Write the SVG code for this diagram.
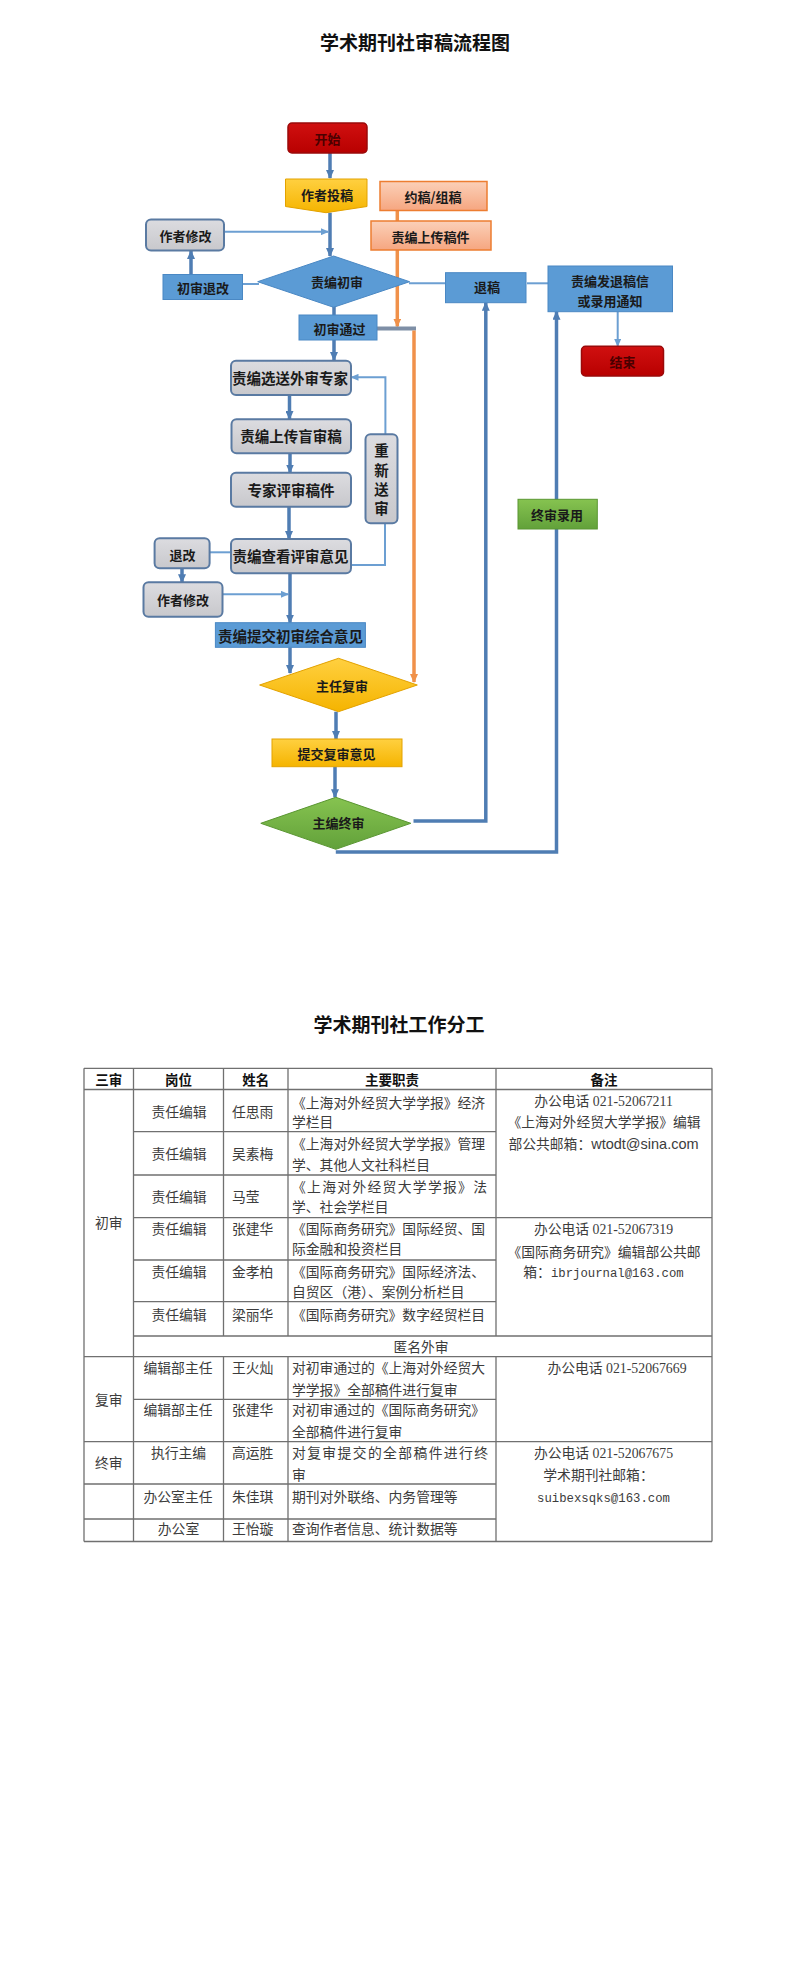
<svg xmlns="http://www.w3.org/2000/svg" width="799" height="1980" viewBox="0 0 799 1980">
<defs>
<linearGradient id="gRed" x1="0" y1="0" x2="0" y2="1"><stop offset="0" stop-color="#d01010"/><stop offset="1" stop-color="#b80000"/></linearGradient>
<linearGradient id="gYel" x1="0" y1="0" x2="0" y2="1"><stop offset="0" stop-color="#ffd040"/><stop offset="1" stop-color="#f5b400"/></linearGradient>
<linearGradient id="gSal" x1="0" y1="0" x2="0" y2="1"><stop offset="0" stop-color="#fbd0b8"/><stop offset="1" stop-color="#f6a680"/></linearGradient>
<linearGradient id="gGray" x1="0" y1="0" x2="0" y2="1"><stop offset="0" stop-color="#dcdce0"/><stop offset="1" stop-color="#c8c8cc"/></linearGradient>
<linearGradient id="gGrn" x1="0" y1="0" x2="0" y2="1"><stop offset="0" stop-color="#86c350"/><stop offset="1" stop-color="#62a13a"/></linearGradient>
<marker id="ah" markerUnits="userSpaceOnUse" markerWidth="9" markerHeight="8" refX="8" refY="4" orient="auto"><path d="M0,0 L9,4 L0,8 z" fill="#4f7db3"/></marker>
<marker id="ahThin" markerUnits="userSpaceOnUse" markerWidth="8" markerHeight="7" refX="7" refY="3.5" orient="auto"><path d="M0,0 L8,3.5 L0,7 z" fill="#6c9fd2"/></marker>
<marker id="ahOr" markerUnits="userSpaceOnUse" markerWidth="9" markerHeight="8" refX="8" refY="4" orient="auto"><path d="M0,0 L9,4 L0,8 z" fill="#f0914a"/></marker>
</defs>
<style>
.t{font-family:"Noto Sans CJK SC","Noto Sans",sans-serif;font-weight:700;fill:#1a1a1a;text-anchor:middle;dominant-baseline:central;font-size:13px}
.tg{font-size:14.5px}
.tr{fill:#4a0000}
.blue{fill:#5b9bd5;stroke:#4a88c4;stroke-width:1}
.gray{fill:url(#gGray);stroke:#5a7aa2;stroke-width:2}
.red{fill:url(#gRed);stroke:#9a0a0a;stroke-width:1.5}
.yel{fill:url(#gYel);stroke:#e3a200;stroke-width:1}
.sal{fill:url(#gSal);stroke:#ed7d31;stroke-width:1.5}
.grn{fill:url(#gGrn);stroke:#5a9632;stroke-width:1}
.thick{fill:none;stroke:#4f7db3;stroke-width:3.5}
.thin{fill:none;stroke:#6c9fd2;stroke-width:2}
.or{fill:none;stroke:#f0914a;stroke-width:3.5}
.title{font-family:"Noto Sans CJK SC","Noto Sans",sans-serif;font-weight:700;fill:#111;text-anchor:middle;font-size:19px}
.grid{fill:none;stroke:#707070;stroke-width:1.3}
.c{font-family:"Liberation Serif","Noto Sans CJK SC",serif;font-size:13.8px;fill:#3c3c3c}
.m{text-anchor:middle}
.mono{font-family:"Liberation Mono","Noto Sans CJK SC",monospace;font-size:12.3px}
.h{font-family:"Noto Sans CJK SC",sans-serif;font-weight:700;font-size:13.5px;fill:#111;text-anchor:middle}
</style>
<rect x="0" y="0" width="799" height="1980" fill="#ffffff"/>
<text class="title" x="415" y="50">学术期刊社审稿流程图</text>

<g id="connectors">
<path class="thick" d="M330,153 V178" marker-end="url(#ah)"/>
<path class="thick" d="M330,212.7 V256" marker-end="url(#ah)"/>
<path class="thin" d="M224,231.7 H328" marker-end="url(#ahThin)"/>
<path class="thick" d="M191,274.5 V251" marker-end="url(#ah)"/>
<path class="thin" d="M242,284 H259"/>
<path class="thin" d="M409,283.3 H445.5"/>
<path class="thin" d="M527,283.3 H548"/>
<path class="or" d="M397.3,210.7 V221"/>
<path class="or" d="M397.3,250 V326.5" marker-end="url(#ahOr)"/>
<path class="thick" d="M334,306 V315"/>
<path d="M377,328.5 H416" fill="none" stroke="#7e8fa6" stroke-width="4"/>
<path class="or" d="M414,330.5 V682" marker-end="url(#ahOr)"/>
<path class="thick" d="M334,340 V360" marker-end="url(#ah)"/>
<path class="thick" d="M289.5,395 V419" marker-end="url(#ah)"/>
<path class="thick" d="M290,453.3 V472.5" marker-end="url(#ah)"/>
<path class="thick" d="M289,506.7 V539" marker-end="url(#ah)"/>
<path class="thin" d="M351,565 H385 V523.3"/>
<path class="thin" d="M385.4,434.3 V377.3 H351.5" marker-end="url(#ahThin)"/>
<path class="thin" d="M209.6,552.3 H231"/>
<path class="thick" d="M182,568.3 V582.3" marker-end="url(#ah)"/>
<path class="thin" d="M222.3,594.3 H288" marker-end="url(#ahThin)"/>
<path class="thick" d="M290,573.3 V622.7" marker-end="url(#ah)"/>
<path class="thick" d="M290,647.3 V673" marker-end="url(#ah)"/>
<path class="thick" d="M336,711.7 V739" marker-end="url(#ah)"/>
<path class="thick" d="M335,766.7 V797.3" marker-end="url(#ah)"/>
<path class="thick" d="M413.5,821 H485.8 V302.7" marker-end="url(#ah)"/>
<path class="thick" d="M335.8,852 H556.5 V311.7" marker-end="url(#ah)"/>
<path class="thin" d="M617.7,311.7 V346" marker-end="url(#ahThin)"/>
</g>

<g id="n-start"><rect class="red" x="288" y="123" width="79" height="30" rx="4"/><text class="t tr" x="327.5" y="138.5">开始</text></g>
<g id="n-submit"><path class="yel" d="M285.5,179 H367 V206.5 L326,212.7 L285.5,206.5 Z"/><text class="t" x="327" y="194.3">作者投稿</text></g>
<g id="n-invite"><rect class="sal" x="380" y="181.5" width="107" height="29"/><text class="t" x="433" y="196.5">约稿/组稿</text></g>
<g id="n-upload"><rect class="sal" x="371" y="221" width="120" height="29"/><text class="t" x="430.5" y="236.5">责编上传稿件</text></g>
<g id="n-revise1"><rect class="gray" x="146" y="219.5" width="78" height="31" rx="5"/><text class="t" x="185.4" y="235.5">作者修改</text></g>
<g id="n-firstreview"><path class="blue" d="M333.6,256 L409.6,281.7 L333.6,307.3 L257.7,281.7 Z"/><text class="t" x="337" y="281.7">责编初审</text></g>
<g id="n-return1"><rect class="blue" x="163" y="274.5" width="79.5" height="25"/><text class="t" x="203" y="287.3">初审退改</text></g>
<g id="n-reject"><rect class="blue" x="445.5" y="272.7" width="80.5" height="30"/><text class="t" x="487" y="286.7">退稿</text></g>
<g id="n-notify"><rect class="blue" x="548" y="266" width="124.5" height="45.7"/><text class="t" x="610" y="280.3">责编发退稿信</text><text class="t" x="610" y="300">或录用通知</text></g>
<g id="n-end"><rect class="red" x="581.5" y="346.3" width="82" height="29.7" rx="4"/><text class="t tr" x="622.5" y="361.5">结束</text></g>
<g id="n-pass"><rect class="blue" x="299" y="315" width="78" height="25"/><text class="t" x="339.5" y="328.5">初审通过</text></g>
<g id="n-select"><rect class="gray" x="231" y="360.7" width="120" height="34.3" rx="5"/><text class="t tg" x="290" y="377.5">责编选送外审专家</text></g>
<g id="n-blind"><rect class="gray" x="231.5" y="419.3" width="119.5" height="34" rx="5"/><text class="t tg" x="291" y="435.5">责编上传盲审稿</text></g>
<g id="n-expert"><rect class="gray" x="231" y="472.7" width="120" height="34" rx="5"/><text class="t tg" x="291" y="489">专家评审稿件</text></g>
<g id="n-resend"><rect class="gray" x="365.5" y="434.3" width="32" height="89" rx="5"/><text class="t tg" x="381.5" y="449.5">重</text><text class="t tg" x="381.5" y="469">新</text><text class="t tg" x="381.5" y="488.5">送</text><text class="t tg" x="381.5" y="507.5">审</text></g>
<g id="n-view"><rect class="gray" x="231" y="539" width="120" height="34.3" rx="5"/><text class="t tg" x="290.5" y="555.5">责编查看评审意见</text></g>
<g id="n-return2"><rect class="gray" x="154.6" y="538.3" width="55" height="30" rx="5"/><text class="t" x="182.5" y="554">退改</text></g>
<g id="n-revise2"><rect class="gray" x="143.5" y="582.3" width="79" height="34.4" rx="5"/><text class="t" x="183" y="599">作者修改</text></g>
<g id="n-summary"><rect class="blue" x="215.4" y="622.7" width="150" height="24.6"/><text class="t tg" x="290.5" y="635.5">责编提交初审综合意见</text></g>
<g id="n-director"><path class="yel" d="M338.5,658.3 L417.3,685 L338.5,711.7 L259.6,685 Z"/><text class="t" x="342" y="685">主任复审</text></g>
<g id="n-opinion"><rect class="yel" x="272" y="739" width="130" height="27.7"/><text class="t" x="336.5" y="753.5">提交复审意见</text></g>
<g id="n-final"><path class="grn" d="M335.8,797.3 L410.8,823.3 L335.8,849.3 L260.8,823.3 Z"/><text class="t" x="338.5" y="822.7">主编终审</text></g>
<g id="n-accept"><rect class="grn" x="518" y="499.3" width="79.3" height="29.7"/><text class="t" x="557" y="514">终审录用</text></g>

<text class="title" x="399" y="1032">学术期刊社工作分工</text>
<g id="table">
<path class="grid" d="M84,1068.3 H712 M84,1089.5 H712 M133.5,1131.7 H496 M133.5,1175 H496 M133.5,1217.7 H712 M133.5,1260 H496 M133.5,1301.7 H496 M133.5,1336 H712 M84,1356.7 H712 M133.5,1399.3 H496 M84,1441.7 H712 M84,1484 H496 M84,1519 H496 M84,1541.5 H712"/>
<path class="grid" d="M84,1068.3 V1541.5 M133.5,1068.3 V1541.5 M223.5,1068.3 V1336 M223.5,1356.7 V1541.5 M288,1068.3 V1336 M288,1356.7 V1541.5 M496,1068.3 V1336 M496,1356.7 V1541.5 M712,1068.3 V1541.5"/>
<text class="h" x="108.7" y="1084.5">三审</text>
<text class="h" x="178.5" y="1084.5">岗位</text>
<text class="h" x="255.7" y="1084.5">姓名</text>
<text class="h" x="392" y="1084.5">主要职责</text>
<text class="h" x="604" y="1084.5">备注</text>

<text class="c m" x="108.7" y="1228">初审</text>
<text class="c m" x="108.7" y="1404.5">复审</text>
<text class="c m" x="108.7" y="1468">终审</text>

<text class="c m" x="179" y="1116.5">责任编辑</text>
<text class="c" x="232" y="1116.5">任思雨</text>
<text class="c" x="292" y="1107.5">《上海对外经贸大学学报》经济</text>
<text class="c" x="292" y="1126.5">学栏目</text>

<text class="c m" x="179" y="1159">责任编辑</text>
<text class="c" x="232" y="1159">吴素梅</text>
<text class="c" x="292" y="1149">《上海对外经贸大学学报》管理</text>
<text class="c" x="292" y="1170">学、其他人文社科栏目</text>

<text class="c m" x="179" y="1201.5">责任编辑</text>
<text class="c" x="232" y="1201.5">马莹</text>
<text class="c" x="292" y="1191.5" textLength="195" lengthAdjust="spacing">《上海对外经贸大学学报》法</text>
<text class="c" x="292" y="1211.5">学、社会学栏目</text>

<text class="c m" x="179" y="1234">责任编辑</text>
<text class="c" x="232" y="1234">张建华</text>
<text class="c" x="292" y="1234">《国际商务研究》国际经贸、国</text>
<text class="c" x="292" y="1254">际金融和投资栏目</text>

<text class="c m" x="179" y="1276.5">责任编辑</text>
<text class="c" x="232" y="1276.5">金孝柏</text>
<text class="c" x="292" y="1276.5">《国际商务研究》国际经济法、</text>
<text class="c" x="292" y="1296.5">自贸区（港）、案例分析栏目</text>

<text class="c m" x="179" y="1320">责任编辑</text>
<text class="c" x="232" y="1320">梁丽华</text>
<text class="c" x="292" y="1320">《国际商务研究》数字经贸栏目</text>

<text class="c m" x="421" y="1352">匿名外审</text>

<text class="c m" x="178" y="1373">编辑部主任</text>
<text class="c" x="232" y="1373">王火灿</text>
<text class="c" x="292" y="1373">对初审通过的《上海对外经贸大</text>
<text class="c" x="292" y="1395">学学报》全部稿件进行复审</text>

<text class="c m" x="178" y="1415">编辑部主任</text>
<text class="c" x="232" y="1415">张建华</text>
<text class="c" x="292" y="1415">对初审通过的《国际商务研究》</text>
<text class="c" x="292" y="1436.5">全部稿件进行复审</text>

<text class="c m" x="178.5" y="1458">执行主编</text>
<text class="c" x="232" y="1458">高运胜</text>
<text class="c" x="292" y="1458" textLength="196" lengthAdjust="spacing">对复审提交的全部稿件进行终</text>
<text class="c" x="292" y="1480">审</text>

<text class="c m" x="178" y="1502">办公室主任</text>
<text class="c" x="232" y="1502">朱佳琪</text>
<text class="c" x="292" y="1502">期刊对外联络、内务管理等</text>

<text class="c m" x="178.5" y="1534">办公室</text>
<text class="c" x="232" y="1534">王怡璇</text>
<text class="c" x="292" y="1534">查询作者信息、统计数据等</text>

<text class="c m" x="603.5" y="1106">办公电话 021-52067211</text>
<text class="c m" x="604" y="1127">《上海对外经贸大学学报》编辑</text>
<text class="c m" x="603.5" y="1149">部公共邮箱：<tspan font-family="Liberation Sans,sans-serif" font-size="14.5">wtodt@sina.com</tspan></text>

<text class="c m" x="603.5" y="1234">办公电话 021-52067319</text>
<text class="c m" x="604" y="1256.5">《国际商务研究》编辑部公共邮</text>
<text class="c m" x="603.5" y="1276.5">箱：<tspan font-family="Liberation Mono,monospace" font-size="12.3">ibrjournal@163.com</tspan></text>

<text class="c m" x="617" y="1373">办公电话 021-52067669</text>

<text class="c m" x="603.5" y="1458">办公电话 021-52067675</text>
<text class="c m" x="598.5" y="1480">学术期刊社邮箱：</text>
<text class="c m mono" x="603.5" y="1501.5">suibexsqks@163.com</text>
</g>
</svg>
